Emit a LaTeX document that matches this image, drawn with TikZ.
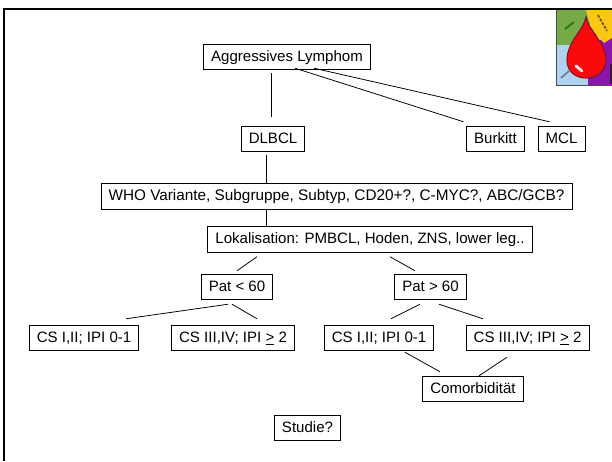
\documentclass[tikz,border=0pt]{standalone}
\usepackage{fontspec}
\setmainfont{Liberation Sans}
\definecolor{dropred}{RGB}{250,10,10}
\definecolor{dropedge}{RGB}{130,20,40}
\definecolor{logogreen}{RGB}{118,170,70}
\definecolor{logoyellow}{RGB}{250,200,20}
\definecolor{logoblue}{RGB}{175,210,240}
\definecolor{logopurple}{RGB}{140,20,170}
\tikzset{
  box/.style={draw,line width=0.6pt,inner xsep=0.19cm,inner ysep=0pt,minimum height=0.64cm,
    text height=2.8mm,text depth=0.8mm,font=\fontsize{10.7}{12}\selectfont},
  link/.style={line width=0.55pt}
}
\begin{document}
\begin{tikzpicture}[x=0.025cm,y=-0.025cm]
   \useasboundingbox (0,0) rectangle (612,461);
   % frame
   \draw[line width=1.4pt] (4,461) -- (4,9) -- (612,9);
   % logo
   \fill[logogreen] (556,10) rectangle (590,47);
   \fill[logoblue] (556,45) rectangle (590,85);
   \fill[logopurple] (588,85) -- (588,44) -- (600,40) -- (612,36) -- (612,85) -- cycle;
   \fill[logoyellow] (586,10) -- (612,10) -- (612,38) -- (604,43) -- (592,30) -- cycle;
   \fill[black!85] (610,64) rectangle (612,84);
   \draw[green!35!black,line width=1.5pt,opacity=0.6] (565,29) -- (574,22);
   \draw[black!60!logoyellow,line width=1.2pt,dash pattern=on 2pt off 1pt] (598,15) -- (607,31);
   \draw[black!40!logoblue,line width=1.2pt] (561,78) -- (569,71);
   \draw[dropedge,line width=0.8pt,fill=dropred] (586,17)
     .. controls (584,30) and (567,42) .. (567,60)
     .. controls (567,72) and (576,78) .. (586,78)
     .. controls (597,78) and (606,71) .. (606,60)
     .. controls (606,42) and (588,30) .. (586,17) -- cycle;
   \draw[white!90!red,line width=2pt,line cap=round] (576,66) -- (582,71);
   \draw[line width=0.6pt,black!70] (556.3,85) -- (556.3,10);
   \draw[line width=0.6pt,black!70] (556,85) -- (612,85);
   % boxes
   \node[box] (agg) at (287,57) {Aggressives Lymphom};
   \node[box] (dlbcl) at (273,139) {DLBCL};
   \node[box] (burkitt) at (495.5,139) {Burkitt};
   \node[box] (mcl) at (561.5,139) {MCL};
   \node[box,font=\fontsize{10.9}{12}\selectfont] (who) at (336.5,196.5) {WHO Variante, Subgruppe, Subtyp, CD20+?, C-MYC?, ABC/GCB?};
   \node[box] (lok) at (370,239.5) {Lokalisation: PMBCL, Hoden, ZNS, lower leg..};
   \node[box] (patlow) at (237,287) {Pat < 60};
   \node[box] (pathigh) at (430.5,287) {Pat > 60};
   \node[box] (cslowa) at (84,338) {CS I,II; IPI 0-1};
   \node[box] (cslowb) at (233,338) {CS III,IV; IPI \underline{>} 2};
   \node[box] (cshigha) at (379,338) {CS I,II; IPI 0-1};
   \node[box] (cshighb) at (527.5,338) {CS III,IV; IPI \underline{>} 2};
   \node[box] (comorb) at (473,389) {Comorbidität};
   \node[box] (studie) at (307.5,428) {Studie?};
   % connectors
   \draw[link] ([shift={(-16,3)}]agg.south) -- ([shift={(-2,-9)}]dlbcl.north);
   \draw[link] ([shift={(8,-2)}]agg.south) -- ([shift={(-32,-4)}]burkitt.north);
   \draw[link] ([shift={(27,-2)}]agg.south) -- ([shift={(-12,-4)}]mcl.north);
   \draw[link] ([shift={(-7,3)}]dlbcl.south) -- ([shift={(-70.5,0)}]who.north);
   \draw[link] ([shift={(-70.5,0)}]who.south) -- ([shift={(-104,0)}]lok.north);
   \draw[link] ([shift={(-113,4)}]lok.south) -- ([shift={(0,-3)}]patlow.north);
   \draw[link] ([shift={(20,4)}]lok.south) -- ([shift={(-15.5,-3)}]pathigh.north);
   \draw[link] ([shift={(-9,4)}]patlow.south) -- ([shift={(42,-6)}]cslowa.north);
   \draw[link] ([shift={(-5,4)}]patlow.south) -- ([shift={(24,-6)}]cslowb.north);
   \draw[link] ([shift={(-10.5,4)}]pathigh.south) -- ([shift={(12,-6)}]cshigha.north);
   \draw[link] ([shift={(8.5,4)}]pathigh.south) -- ([shift={(-44.5,-6)}]cshighb.north);
   \draw[link] ([shift={(26,1)}]cshigha.south) -- ([shift={(-33,-4)}]comorb.north);
   \draw[link] ([shift={(-20.5,6)}]cshighb.south) -- ([shift={(6,0)}]comorb.north);
\end{tikzpicture}
\end{document}
